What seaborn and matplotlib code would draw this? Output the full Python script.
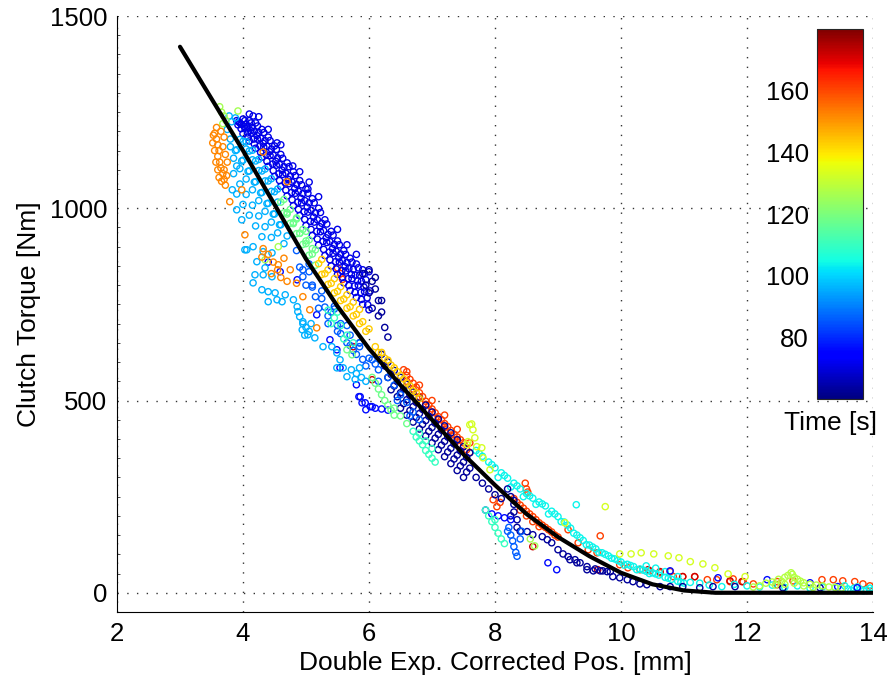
import numpy as np
import pandas as pd
import matplotlib
matplotlib.use("Agg")
import matplotlib.pyplot as plt
import seaborn as sns
from matplotlib.colors import Normalize
from matplotlib.cm import ScalarMappable
from matplotlib.ticker import MultipleLocator

# ---------------------------------------------------------------------------
# Fitted torque characteristic (position [mm] -> torque [Nm])
curve_pos = [3.0, 3.5, 4.0, 4.5, 5.0, 5.5, 6.0, 6.5, 7.0, 7.5, 8.0, 8.5,
             9.0, 9.5, 10.0, 10.5, 11.0, 11.5, 12.0, 13.0, 14.0]
curve_torque = [1420, 1285, 1150, 1010, 868, 745, 635, 540, 450, 360, 280,
                205, 145, 95, 52, 22, 6, 0, 0, 0, 0]

# Measured samples, grouped by recording time [s]
time_band = 71
pos_band = [3.9, 4.0, 4.1, 4.2, 4.3, 4.4, 4.5, 4.6, 4.7, 4.8, 4.9, 5.0, 5.1,
            5.2, 5.3, 5.4, 5.5, 5.6, 5.7, 5.8, 5.9, 6.0,
            3.95, 4.05, 4.15, 4.25, 4.35, 4.45, 4.55, 4.65, 4.75, 4.85, 4.95,
            5.05, 5.15, 5.25, 5.35, 5.45, 5.55, 5.65, 5.75, 5.85, 5.95,
            3.92, 4.02, 4.12, 4.22, 4.32, 4.42, 4.52, 4.62, 4.72, 4.82, 4.92,
            5.02, 5.12, 5.22, 5.32, 5.42, 5.52, 5.62, 5.72, 5.82, 5.92, 6.02,
            3.97, 4.07, 4.17, 4.27, 4.37, 4.47, 4.57, 4.67, 4.77, 4.87, 4.97,
            5.07, 5.17, 5.27, 5.37, 5.47, 5.57, 5.67, 5.77, 5.87, 5.97,
            4.0, 4.1, 4.2, 4.3, 4.4, 4.5, 4.6, 4.7, 4.8, 4.9, 5.0, 5.1, 5.2,
            5.3, 5.4, 5.5, 5.6, 5.7, 5.8, 5.9, 6.0,
            3.93, 4.03, 4.13, 4.23, 4.33, 4.43, 4.53, 4.63, 4.73, 4.83, 4.93,
            5.03, 5.13, 5.23, 5.33, 5.43, 5.53, 5.63, 5.73, 5.83, 5.93,
            3.98, 4.08, 4.18, 4.28, 4.38, 4.48, 4.58, 4.68, 4.78, 4.88, 4.98,
            5.08, 5.18, 5.28, 5.38, 5.48, 5.58, 5.68, 5.78, 5.88,
            4.03, 4.13, 4.23, 4.33, 4.43, 4.53, 4.63, 4.73, 4.83, 4.93,
            5.03, 5.13, 5.23, 5.33, 5.43, 5.53, 5.63, 5.73, 5.83, 5.93,
            4.08, 4.18, 4.28, 4.38, 4.48, 4.58, 4.68, 4.78, 4.88, 4.98,
            5.08, 5.18, 5.28, 5.38, 5.48, 5.58, 5.68, 5.78, 5.88, 5.98,
            4.1, 4.4, 4.6, 4.9, 5.2, 5.5, 5.8, 4.25, 5.05, 5.65,
            4.16, 4.54, 4.79, 5.03]
torque_band = [1228, 1232, 1228, 1222, 1205, 1185, 1162, 1140, 1118, 1095,
               1072, 1050, 1025, 1000, 970, 940, 915, 890, 870, 855, 840, 835,
               1222, 1219, 1210, 1197, 1176, 1154, 1131, 1108, 1084, 1062,
               1038, 1014, 988, 961, 932, 906, 881, 859, 841, 826, 814,
               1217, 1213, 1202, 1189, 1169, 1147, 1122, 1099, 1075, 1051,
               1026, 1003, 977, 952, 923, 895, 871, 848, 828, 811, 795, 785,
               1207, 1196, 1180, 1162, 1139, 1115, 1090, 1066, 1041, 1016,
               991, 966, 940, 914, 886, 861, 838, 817, 798, 781, 767,
               1194, 1175, 1156, 1133, 1109, 1083, 1057, 1032, 1007, 981, 955,
               929, 904, 877, 850, 828, 806, 786, 768, 750, 736,
               1225, 1228, 1222, 1214, 1197, 1176, 1153, 1130, 1108, 1085,
               1061, 1039, 1014, 989, 959, 930, 905, 880, 860, 845, 830,
               1218, 1211, 1200, 1182, 1161, 1138, 1114, 1091, 1068, 1044,
               1020, 995, 970, 942, 913, 888, 864, 843, 826, 810,
               1208, 1195, 1180, 1159, 1137, 1112, 1088, 1064, 1039, 1014,
               990, 964, 939, 911, 883, 860, 837, 817, 800, 783,
               1185, 1167, 1145, 1122, 1098, 1072, 1047, 1022, 997, 971,
               945, 920, 893, 866, 842, 820, 799, 781, 763, 749,
               1245, 1205, 1165, 1095, 1030, 945, 880, 1238, 1068, 905,
               1240, 1170, 1110, 1050]

time_navy = 63
pos_navy = [5.9, 6.0, 6.05, 6.1, 6.15, 6.2, 6.15, 6.05, 6.0, 6.1, 5.95, 6.2,
            6.25, 6.3,
            6.2, 6.3, 6.4, 6.5, 6.6, 6.7, 6.8, 6.9, 7.0, 7.1, 7.2, 7.3, 7.4,
            7.5, 7.6,
            6.25, 6.35, 6.45, 6.55, 6.65, 6.75, 6.85, 6.95, 7.05, 7.15, 7.25,
            7.35, 7.45, 7.55,
            6.3, 6.4, 6.5, 6.6, 6.7, 6.8, 6.9, 7.0, 7.1, 7.2, 7.3, 7.4, 7.5,
            7.6,
            6.35, 6.45, 6.55, 6.65, 6.75, 6.85, 6.95, 7.05, 7.15, 7.25, 7.35,
            7.45, 7.55,
            6.5, 6.6, 6.7, 6.8, 6.9, 7.0, 7.1, 7.2, 7.3, 7.4, 7.5,
            7.7, 7.8, 7.9, 8.0, 8.1, 8.2, 8.25, 8.3, 8.3, 8.35, 8.35, 8.4,
            8.3, 8.25,
            8.51, 8.6, 8.75, 8.83, 8.9, 9.0, 9.08, 9.16, 9.27, 9.35, 9.46,
            9.59, 9.71, 9.83, 9.19, 9.3, 9.46, 9.56, 9.67, 9.78, 9.87, 9.98,
            10.1, 10.19, 10.3, 10.41, 10.62, 10.78, 10.98, 11.25, 11.46,
            11.81, 12.57, 13.16]
torque_navy = [830, 840, 810, 790, 760, 730, 720, 740, 780, 820, 800, 760,
               690, 665,
               620, 600, 578, 560, 542, 522, 506, 488, 470, 452, 434, 416, 398,
               380, 364,
               590, 568, 549, 531, 513, 495, 477, 459, 441, 423, 405,
               387, 369, 352,
               560, 538, 520, 502, 484, 466, 448, 430, 412, 394, 376, 358, 340,
               324,
               528, 510, 492, 474, 456, 438, 420, 402, 384, 366, 348,
               330, 314,
               480, 462, 444, 426, 408, 390, 372, 354, 336, 318, 300,
               300, 285, 270, 255, 245, 270, 250, 230, 210, 190, 170, 160,
               240, 200,
               159, 151, 146, 138, 130, 112, 101, 94, 86, 78, 68,
               62, 57, 55, 86, 78, 60, 57, 57, 55, 42, 39,
               34, 29, 23, 21, 16, 16, 16, 13, 16,
               16, 13, 13]

time_blue = 76
pos_blue = [4.4, 4.59, 4.86, 5.17, 5.38, 5.49, 5.54, 5.8, 5.86, 5.94, 6.02,
            6.1, 6.2, 6.3, 5.84, 5.89, 5.95, 6.05, 7.85, 7.95, 8.05, 8.15,
            8.25, 8.84, 8.98, 10.78, 11.54, 12.32, 13.0, 13.44, 13.75]
torque_blue = [860, 835, 814, 723, 658, 632, 585, 541, 510, 494, 484,
               480, 478, 475, 510, 494, 476, 484, 215, 205, 200, 195,
               190, 78, 60, 57, 39, 34, 26, 16, 13]

time_mid = 86
pos_mid = [8.22, 8.25, 8.28, 8.3, 8.33, 8.35, 8.4, 8.42, 8.2,
           6.3, 6.4, 6.5, 6.6, 6.7, 6.8, 6.45, 6.65,
           4.95, 5.1, 5.25, 5.4, 5.55, 5.7, 5.85, 6.0, 6.15, 5.2, 5.5, 5.8,
           5.35, 5.65, 5.0,
           4.9, 5.1, 5.3, 5.5, 5.7, 5.9, 5.05, 5.45, 5.85, 6.1,
           4.85, 5.05, 5.25, 5.45, 5.65, 5.85, 6.05,
           4.95, 5.15, 5.35, 5.55, 5.75, 5.95, 6.15]
torque_mid = [170, 150, 135, 120, 105, 95, 140, 160, 160,
              560, 540, 515, 495, 470, 450, 500, 460,
              840, 800, 765, 730, 700, 670, 640, 610, 580, 740, 680, 620,
              700, 650, 800,
              847, 795, 743, 695, 643, 607, 855, 745, 650, 595,
              890, 835, 785, 738, 695, 650, 606,
              822, 770, 720, 674, 630, 590, 550]

time_sky = 96
pos_sky = [3.8, 3.9, 4.0, 4.1, 4.2, 4.3, 4.4, 4.5, 4.6, 4.7,
           3.85, 3.95, 4.05, 4.15, 4.25, 4.35, 4.45, 4.55, 4.65,
           3.85, 3.95, 4.05, 4.15, 4.25, 4.35, 4.45,
           3.9, 4.0, 4.1, 4.2, 4.3,
           3.88, 3.98, 4.08, 4.18, 4.28, 4.38, 4.48, 4.58,
           3.78, 3.82, 3.88, 3.75, 3.8, 3.9,
           4.05, 4.15, 4.25, 4.35, 4.45, 4.55,
           3.95, 4.05, 4.15, 4.25, 4.35, 4.45, 4.55,
           4.0, 4.1, 4.2, 4.3, 4.4, 4.5,
           4.03, 4.16, 4.32, 4.46, 4.22, 4.35, 4.19, 4.32, 4.46, 4.16, 4.3,
           4.4, 4.51, 4.4, 4.54, 4.62, 4.67, 4.8, 4.86, 4.87, 4.9, 4.95,
           4.94, 5.03, 5.14, 5.27, 5.41, 5.49, 5.54, 5.59, 5.65, 5.49,
           4.95, 5.0, 5.05, 4.98, 5.08, 5.72, 5.8, 5.88, 5.95, 5.78, 5.85,
           3.83, 3.9, 3.98, 4.06]
torque_sky = [1180, 1152, 1125, 1097, 1069, 1041, 1013, 985, 957, 928,
              1130, 1103, 1076, 1048, 1020, 992, 964, 936, 908,
              1090, 1063, 1036, 1008, 980, 952, 924,
              1037, 1010, 982, 954, 926,
              1150, 1123, 1096, 1068, 1040, 1012, 985, 957,
              1240, 1225, 1235, 1205, 1160, 1110,
              1173, 1151, 1127, 1102, 1077, 1050,
              1179, 1154, 1126, 1098, 1071, 1044, 1016,
              1174, 1149, 1123, 1097, 1071, 1043,
              892, 900, 887, 884, 861, 845, 827, 827, 822, 806, 788,
              783, 780, 757, 762, 757, 775, 762, 744, 731, 718, 705,
              684, 671, 663, 640, 640, 624, 606, 585, 562, 585,
              700, 690, 680, 670, 700, 580, 570, 560, 550, 555, 585,
              1048, 996, 970, 892]

time_cyan = 104
pos_cyan = [7.7, 7.8, 7.9, 8.0, 8.1, 8.2, 8.3, 8.4, 8.5, 8.6, 8.7, 8.8, 8.9,
            9.0, 9.1, 9.2, 9.3, 9.4, 9.5, 9.6, 9.7, 9.8, 9.9, 10.0, 10.1,
            10.2, 10.3, 10.4, 10.5, 10.6, 10.7, 10.8, 10.9, 11.0,
            8.05, 8.25, 8.45, 8.65, 8.85, 9.05, 9.25, 9.45, 9.65, 9.85,
            10.05, 10.25, 10.45,
            7.75, 7.95, 8.15, 8.35, 8.55, 8.75, 8.95, 9.15, 9.35, 9.55, 9.75,
            9.95, 10.15, 10.35, 10.55, 10.75, 10.95,
            10.4, 10.55, 10.7, 10.9, 11.1, 11.25, 11.4, 11.6, 11.8, 12.0,
            12.2, 12.4, 12.6, 12.8, 13.0, 13.2, 13.4, 13.5, 13.6, 13.7, 13.8,
            13.9, 14.0, 13.55, 13.75, 13.95, 13.65, 13.85, 9.29]
torque_cyan = [370, 355, 340, 325, 312, 298, 285, 270, 258, 246, 236, 226,
               212, 198, 184, 168, 150, 136, 124, 114, 104, 96, 88, 80, 74,
               68, 62, 56, 52, 46, 40, 35, 30, 25,
               300, 275, 250, 230, 205, 185, 155, 125, 105, 90,
               72, 60, 50,
               362, 333, 305, 278, 252, 231, 205, 176, 143, 119, 100,
               84, 71, 59, 49, 38, 27,
               70, 64, 55, 42, 27, 25, 20, 16, 22, 18,
               15, 20, 14, 18, 12, 15, 14, 12, 10, 12, 9,
               8, 8, 18, 15, 12, 6, 5, 229]

time_aqua = 110
pos_aqua = [6.7, 6.75, 6.8, 6.85, 6.9, 6.95, 7.0, 7.05, 6.8, 6.9, 7.0,
            7.85, 7.9, 7.95, 8.0, 8.05, 8.1, 8.15, 8.0,
            5.35, 5.45, 5.55, 5.65, 5.75, 5.4, 5.6, 5.5]
torque_aqua = [420, 405, 395, 385, 370, 360, 350, 340, 415, 395, 375,
               215, 200, 185, 170, 155, 140, 128, 190,
               735, 715, 695, 670, 650, 700, 660, 730]

time_green = 118
pos_green = [4.7, 4.8, 4.9, 5.0, 5.1, 4.85, 5.0, 5.65, 5.73,
             6.05, 6.1, 6.15, 6.2, 6.25, 6.3, 6.35, 6.4, 6.4, 6.5, 6.6,
             4.65, 4.75, 4.85, 4.95, 5.05, 5.15,
             4.65, 4.75, 4.85, 4.95, 5.05, 5.15,
             4.6, 4.7, 4.8, 4.9, 5.0, 5.1]
torque_green = [985, 960, 935, 915, 895, 975, 940, 632, 619,
                560, 545, 530, 515, 500, 488, 475, 462, 480, 460, 440,
                1023, 997, 972, 945, 918, 892,
                988, 961, 934, 906, 878, 852,
                1016, 989, 963, 935, 908, 881]

time_lime = 126
pos_lime = [3.63, 3.66, 3.7, 3.73, 3.92, 3.68, 4.35, 4.56, 8.56, 8.63]
torque_lime = [1264, 1250, 1240, 1228, 1253, 1220, 866, 900, 140, 122]

time_olive = 128
pos_olive = [12.3, 12.4, 12.5, 12.55, 12.6, 12.65, 12.7, 12.72, 12.75, 12.8,
             12.85, 12.9, 13.0, 13.1, 13.2, 13.3, 13.4, 12.45, 12.6, 12.75,
             12.9, 13.05, 12.2, 12.1, 13.5]
torque_olive = [25, 28, 35, 30, 40, 45, 52, 48, 40, 35,
                30, 26, 22, 20, 18, 15, 14, 20, 22, 25,
                18, 14, 18, 15, 12]

time_yellow = 133
pos_yellow = [7.6, 7.63, 7.65, 7.68, 7.71, 7.81, 7.57, 7.56, 7.79, 7.92,
              9.75, 9.11, 9.98, 10.16, 10.32, 10.52, 10.75, 10.92, 11.1,
              11.3, 11.49, 11.7, 11.97]
torque_yellow = [437, 439, 424, 403, 380, 351, 393, 385, 377, 320,
                 224, 182, 101, 101, 104, 101, 96, 91, 81,
                 75, 65, 49, 42]

time_amber = 143
pos_amber = [5.25, 5.35, 5.45, 5.55, 5.65, 5.75, 5.85,
             6.1, 6.2, 6.3, 6.4, 6.5, 6.6, 6.7, 6.8,
             6.15, 6.25, 6.35, 6.45, 6.55, 6.65, 6.75,
             5.25, 5.35, 5.45, 5.55, 5.65, 5.75, 5.85, 5.95,
             5.2, 5.3, 5.4, 5.5, 5.6, 5.7, 5.8, 5.9, 6.0]
torque_amber = [867, 840, 817, 796, 775, 756, 737,
                640, 625, 605, 585, 565, 545, 525, 505,
                625, 610, 592, 575, 556, 538, 520,
                828, 802, 780, 760, 740, 720, 700, 680,
                856, 830, 805, 784, 764, 744, 724, 705, 686]

time_orange = 152
pos_orange = [3.55, 3.58, 3.6, 3.62, 3.6, 3.63, 3.65, 3.68, 3.7, 3.72, 3.65,
              3.7, 3.68, 3.72, 3.75, 3.7, 3.74, 3.52, 3.55, 3.57, 3.6, 3.62,
              3.66, 3.53, 3.58,
              3.79, 4.03, 4.3, 4.56, 4.32, 4.4, 4.48, 4.55, 4.6, 4.7, 4.75,
              4.85, 4.45, 4.65, 4.95, 5.06, 5.17,
              4.32, 4.7, 3.98]
torque_orange = [1195, 1180, 1165, 1150, 1135, 1120, 1105, 1090, 1075, 1060,
                 1200, 1185, 1160, 1140, 1120, 1100, 1085, 1170, 1150, 1120,
                 1100, 1080, 1070, 1190, 1210,
                 1017, 931, 873, 853, 895, 880, 860, 840, 820, 810, 840,
                 805, 830, 870, 770, 736, 689,
                 1146, 1069, 1048]

time_red = 161
pos_red = [6.55, 6.6, 6.65, 6.7, 6.75, 6.8, 6.85, 6.9, 6.95, 7.0, 7.05, 7.1,
           7.15, 7.2, 7.25, 7.3, 7.35, 7.4, 7.45, 7.5, 6.6, 6.7, 6.8, 6.9,
           7.0, 7.1, 7.2, 7.3, 7.4, 7.5, 7.55, 7.6,
           6.6, 6.8, 7.0, 7.2, 7.4, 7.6,
           8.48, 8.5, 8.52, 8.3, 8.35, 8.4, 8.45, 8.5, 8.55, 8.6, 8.65, 8.7,
           8.75, 8.8, 8.85, 8.9, 8.95, 9.0, 8.4, 8.5, 8.6, 8.7,
           7.97, 8.03, 8.08, 5.5, 5.55, 5.58,
           9.16, 9.67, 9.32, 9.48, 9.62, 9.98, 10.11, 10.3, 10.46, 10.62,
           10.78, 10.83, 10.98, 11.17, 11.37, 11.52, 11.73, 11.78, 11.94,
           12.1, 12.48, 12.73, 13.19, 13.37, 13.52, 13.71, 13.84, 13.95]
torque_red = [580, 565, 555, 545, 535, 520, 510, 498, 488, 478, 468, 458,
              450, 440, 432, 422, 412, 405, 398, 390, 550, 530, 510, 490,
              470, 450, 430, 410, 395, 380, 372, 365,
              575, 540, 500, 462, 425, 390,
              285, 270, 262, 245, 235, 228, 220, 212, 205, 198, 190, 182,
              176, 170, 164, 158, 150, 145, 215, 200, 185, 172,
              242, 224, 235, 845, 830, 815,
              164, 148, 130, 112, 104, 73, 65, 60, 57, 52,
              55, 42, 42, 42, 34, 34, 29, 36, 29,
              23, 29, 31, 34, 34, 31, 29, 23, 18]

time_maroon = 172
pos_maroon = [10.43, 10.62, 10.98, 11.17, 11.73, 11.92, 12.48, 5.75, 6.05,
              8.6, 9.63]
torque_maroon = [60, 55, 42, 42, 31, 29, 21, 640, 554, 120, 60]

# Drawing order: later entries end up on top
groups = [
    (time_red, pos_red, torque_red),
    (time_maroon, pos_maroon, torque_maroon),
    (time_cyan, pos_cyan, torque_cyan),
    (time_band, pos_band, torque_band),
    (time_navy, pos_navy, torque_navy),
    (time_blue, pos_blue, torque_blue),
    (time_mid, pos_mid, torque_mid),
    (time_sky, pos_sky, torque_sky),
    (time_aqua, pos_aqua, torque_aqua),
    (time_green, pos_green, torque_green),
    (time_lime, pos_lime, torque_lime),
    (time_amber, pos_amber, torque_amber),
    (time_orange, pos_orange, torque_orange),
    (time_yellow, pos_yellow, torque_yellow),
    (time_olive, pos_olive, torque_olive),
]
samples = pd.concat(
    [pd.DataFrame({"pos": p, "torque": q, "time": t}) for t, p, q in groups],
    ignore_index=True,
)
curve = pd.DataFrame({"pos": curve_pos, "torque": curve_torque})

# ---------------------------------------------------------------------------
sns.set_style("white")
plt.rcParams["font.family"] = ["Liberation Sans", "DejaVu Sans"]
plt.rcParams["text.color"] = "black"
plt.rcParams["axes.labelcolor"] = "black"
plt.rcParams["xtick.color"] = "black"
plt.rcParams["ytick.color"] = "black"

W, H = 893, 683
fig = plt.figure(figsize=(W / 100, H / 100), dpi=100)
ax = fig.add_axes([117 / W, 1 - 612 / H, (873 - 117) / W, (612 - 16) / H])

jet = matplotlib.colormaps["jet"]
time_norm = Normalize(60, 180)
sns.scatterplot(data=samples, x="pos", y="torque", hue="time",
                palette=jet, hue_norm=time_norm, legend=False,
                s=20, linewidth=1.0, ax=ax, zorder=3)
pts = ax.collections[-1]
pts.set_edgecolors(pts.get_facecolors())
pts.set_facecolors("none")

sns.lineplot(data=curve, x="pos", y="torque", color="black", linewidth=3.0,
             ax=ax, zorder=4)

ax.set_xlim(2, 14)
ax.set_ylim(-50, 1500)
ax.set_xticks(np.arange(2, 15, 2))
ax.set_yticks([0, 500, 1000, 1500])
ax.yaxis.set_minor_locator(MultipleLocator(50))
ax.grid(True, which="major", color="black", linestyle=(0, (1, 6)),
        linewidth=1.0, alpha=0.8)
ax.set_axisbelow(True)
for side in ("top", "right"):
    ax.spines[side].set_visible(False)
for side in ("left", "bottom"):
    ax.spines[side].set_color("black")
    ax.spines[side].set_linewidth(0.8)
ax.tick_params(axis="both", which="major", direction="in", length=4,
               width=0.7, labelsize=18.5, colors="black")
ax.tick_params(axis="y", which="major", pad=7)
ax.tick_params(axis="x", which="major", pad=7)
ax.tick_params(axis="y", which="minor", direction="in", length=2.5,
               width=0.5, left=True)
ax.set_xlabel("Double Exp. Corrected Pos. [mm]", fontsize=19, labelpad=4)
ax.set_ylabel("Clutch Torque [Nm]", fontsize=19, labelpad=6)

# Colour bar for recording time
cax = fig.add_axes([817 / W, 1 - 399 / H, 46 / W, 370 / H])
cb = fig.colorbar(ScalarMappable(norm=time_norm, cmap=jet), cax=cax)
cb.set_ticks([80, 100, 120, 140, 160])
cb.outline.set_linewidth(0.8)
cax.yaxis.set_ticks_position("both")
cax.tick_params(axis="y", direction="in", length=4, width=0.7,
                labelleft=True, labelright=False, labelsize=18.5, pad=6)
fig.text(877 / W, 1 - 423 / H, "Time [s]", ha="right", va="center",
         fontsize=19)

fig.savefig("out.png", dpi=100)
